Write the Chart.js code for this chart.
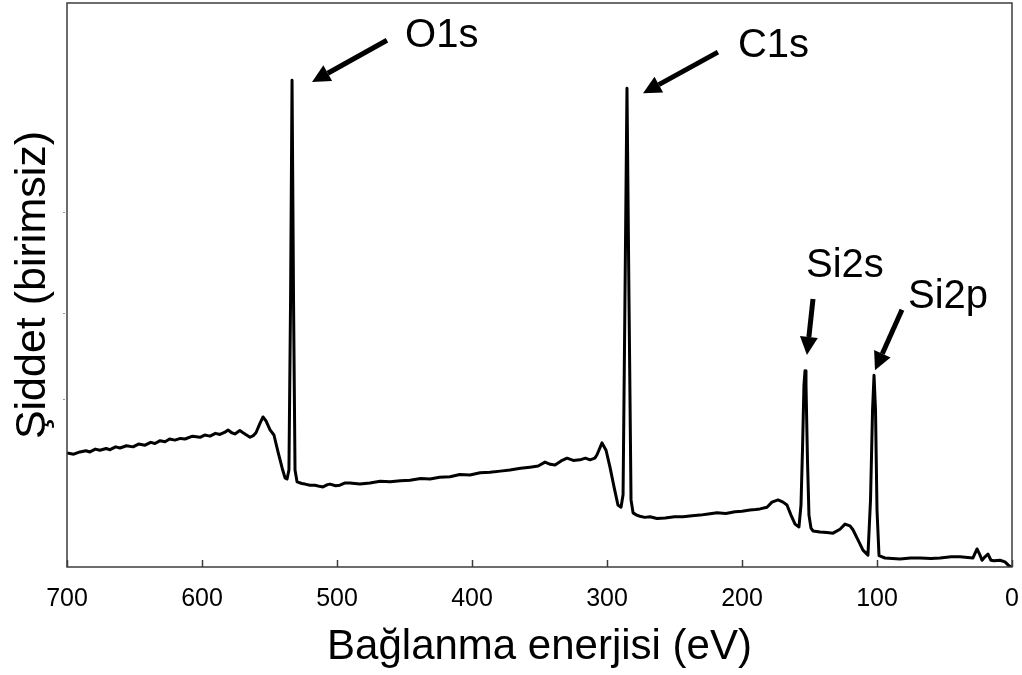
<!DOCTYPE html>
<html>
<head>
<meta charset="utf-8">
<script src="https://cdn.jsdelivr.net/npm/chart.js@4.4.1/dist/chart.umd.min.js"></script>
<style>
  html, body { margin: 0; padding: 0; background: #fff; overflow: hidden; }
  #box { width: 1022px; height: 675px; }
  #myChart { display: block; }
</style>
</head>
<body>
<div id="box"><canvas id="myChart"></canvas></div>
<script>

/* spectrum: binding energy (eV) and intensity (arb. units 0..100) */
const energy = [
  700.0, 695.0, 690.4, 686.0, 683.0, 679.0, 675.6, 671.0, 668.1, 664.0, 660.7, 656.0, 651.1, 647.0,
  642.2, 638.0, 634.8, 631.0, 627.4, 624.0, 620.0, 616.0, 612.6, 607.0, 601.5, 598.0, 594.1, 590.0,
  586.7, 583.0, 580.7, 578.0, 575.6, 572.0, 569.6, 567.0, 564.4, 562.0, 560.0, 557.0, 554.8, 552.6,
  549.6, 546.7, 543.7, 540.7, 538.5, 537.0, 535.6, 534.4, 533.3, 532.2, 531.1, 529.6, 526.0, 523.7,
  520.0, 516.3, 513.0, 510.4, 507.0, 505.2, 501.0, 497.8, 494.0, 490.4, 483.0, 475.6, 468.0, 460.7,
  453.0, 445.9, 438.0, 431.1, 424.0, 416.3, 409.0, 401.5, 394.0, 386.7, 379.0, 371.9, 364.0, 357.0,
  351.0, 345.9, 342.0, 338.5, 334.0, 329.6, 325.0, 320.0, 316.0, 312.6, 309.0, 307.4, 303.7, 300.7,
  297.8, 294.8, 291.9, 289.6, 288.1, 286.7, 285.2, 283.7, 282.2, 280.7, 278.0, 275.6, 272.0, 268.1,
  263.0, 257.0, 250.0, 243.7, 237.0, 231.1, 225.0, 218.5, 212.0, 205.2, 200.0, 194.1, 190.0, 186.7,
  181.5, 177.8, 173.3, 169.6, 166.7, 163.7, 160.7, 157.8, 156.3, 155.2, 154.1, 153.3, 152.6, 151.5,
  150.4, 148.9, 147.4, 142.2, 137.0, 132.6, 127.4, 123.7, 120.0, 117.8, 114.1, 110.4, 106.7, 104.8,
  103.3, 102.2, 101.1, 100.0, 98.5, 94.1, 83.0, 75.0, 68.1, 60.0, 53.3, 45.0, 38.5, 28.9,
  25.9, 23.7, 22.2, 20.0, 17.8, 15.6, 13.3, 8.9, 5.2, 2.2, 0.0
];
const intensity = [
  20.2, 20.0, 20.4, 20.6, 20.4, 20.9, 20.7, 21.0, 20.8, 21.3, 21.1, 21.5, 21.3, 21.8,
  21.6, 22.1, 21.9, 22.4, 22.2, 22.7, 22.5, 22.8, 22.7, 23.2, 23.0, 23.4, 23.2, 23.7,
  23.5, 23.9, 24.3, 23.8, 23.6, 24.2, 23.8, 23.4, 23.0, 23.3, 23.8, 25.5, 26.6, 25.9,
  24.3, 23.4, 20.4, 17.6, 15.8, 15.6, 17.2, 47.3, 86.3, 47.3, 17.2, 15.1, 14.8, 14.7,
  14.5, 14.5, 14.3, 14.2, 14.6, 14.7, 14.4, 14.5, 14.9, 14.9, 14.7, 14.9, 15.2, 15.1,
  15.3, 15.4, 15.7, 15.6, 15.9, 16.0, 16.4, 16.3, 16.7, 16.8, 17.0, 17.2, 17.5, 17.7,
  17.9, 18.6, 18.2, 18.1, 18.8, 19.3, 18.9, 19.0, 19.3, 19.0, 19.3, 19.9, 22.0, 20.7,
  17.7, 14.2, 11.0, 10.6, 12.8, 47.3, 84.9, 47.3, 11.9, 9.6, 9.2, 9.0, 8.8, 8.9,
  8.6, 8.7, 8.9, 8.9, 9.1, 9.2, 9.4, 9.6, 9.5, 9.8, 9.9, 10.1, 10.2, 10.3,
  10.6, 11.5, 11.9, 11.5, 11.0, 9.2, 7.6, 7.1, 11.0, 20.7, 32.3, 34.8, 32.3, 19.0,
  9.2, 6.9, 6.4, 6.2, 6.1, 6.0, 6.7, 7.6, 7.3, 6.6, 4.8, 3.0, 2.1, 11.9,
  27.8, 34.0, 27.8, 10.1, 2.0, 1.6, 1.4, 1.6, 1.6, 1.5, 1.6, 1.8, 1.8, 1.6,
  3.2, 2.1, 1.2, 1.8, 2.3, 1.2, 1.1, 1.2, 0.9, 0.2, 0.0
];

const xTickValues = [700, 600, 500, 400, 300, 200, 100, 0];
const yMarkValues = [29.8, 45.0, 62.9];   // faint marks on the left axis

const peakNames = ['O1s', 'C1s', 'Si2s', 'Si2p'];

/* arrows and labels, in axis units [eV, intensity] */
const peakNotes = [
  { tail: [463.0, 93.4], head: [518.5, 86.0], label: [449.6, 94.1] },
  { tail: [217.8, 91.3], head: [273.3, 84.0], label: [203.0, 92.4] },
  { tail: [147.4, 47.5], head: [151.9, 37.6], label: [152.6, 53.3] },
  { tail: [81.5, 45.6],  head: [101.5, 34.9], label: [77.0, 47.9] }
];

const FONT = "'Liberation Sans', Arial, Helvetica, sans-serif";

/* рамка, внутренние риски, стрелки с подписями */
const decorations = {
  id: 'decorations',
  afterDatasetsDraw(chart) {
    const { ctx, chartArea: a, scales: { x, y } } = chart;
    ctx.save();

    ctx.strokeStyle = '#3c3c3c';
    ctx.lineWidth = 1.5;
    ctx.strokeRect(a.left, a.top, a.right - a.left, a.bottom - a.top);

    xTickValues.forEach((v) => {
      const px = Math.round(x.getPixelForValue(v)) + 0.5;
      ctx.beginPath();
      ctx.moveTo(px, a.bottom);
      ctx.lineTo(px, a.bottom - 7);
      ctx.stroke();
    });

    ctx.strokeStyle = '#9a9a9a';
    ctx.lineWidth = 1;
    yMarkValues.forEach((v) => {
      const py = Math.round(y.getPixelForValue(v)) + 0.5;
      ctx.beginPath();
      ctx.moveTo(a.left - 4, py);
      ctx.lineTo(a.left - 2, py);
      ctx.stroke();
    });

    ctx.fillStyle = '#000';
    ctx.strokeStyle = '#000';
    ctx.font = '40px ' + FONT;
    ctx.textAlign = 'left';
    ctx.textBaseline = 'middle';
    peakNotes.forEach((n, i) => {
      const x0 = x.getPixelForValue(n.tail[0]), y0 = y.getPixelForValue(n.tail[1]);
      const x1 = x.getPixelForValue(n.head[0]), y1 = y.getPixelForValue(n.head[1]);
      drawArrow(ctx, x0, y0, x1, y1);
      ctx.fillText(peakNames[i], x.getPixelForValue(n.label[0]), y.getPixelForValue(n.label[1]));
    });

    ctx.restore();
  }
};

function drawArrow(ctx, x0, y0, x1, y1) {
  const ang = Math.atan2(y1 - y0, x1 - x0);
  const headLen = 18, headHalf = 9;
  const bx = x1 - headLen * Math.cos(ang), by = y1 - headLen * Math.sin(ang);
  ctx.lineWidth = 5;
  ctx.lineCap = 'butt';
  ctx.beginPath();
  ctx.moveTo(x0, y0);
  ctx.lineTo(bx, by);
  ctx.stroke();
  ctx.beginPath();
  ctx.moveTo(x1, y1);
  ctx.lineTo(bx + headHalf * Math.sin(ang), by - headHalf * Math.cos(ang));
  ctx.lineTo(bx - headHalf * Math.sin(ang), by + headHalf * Math.cos(ang));
  ctx.closePath();
  ctx.fill();
}

function createChart() {
  const canvaNode = document.getElementById('myChart');
  const points = energy.map((e, i) => ({ x: e, y: intensity[i] }));

  return new Chart(canvaNode, {
    type: 'line',
    data: {
      datasets: [{
        data: points,
        borderColor: '#000',
        borderWidth: 3,
        borderJoinStyle: 'round',
        pointRadius: 0,
        tension: 0,
        fill: false
      }]
    },
    options: {
      responsive: true,
      maintainAspectRatio: false,
      devicePixelRatio: 1,
      animation: false,
      layout: { padding: { top: 3, right: 10, bottom: 0, left: 0 } },
      plugins: { legend: { display: false }, tooltip: { enabled: false } },
      scales: {
        x: {
          type: 'linear',
          reverse: true,
          min: 0,
          max: 700,
          afterBuildTicks: (scale) => { scale.ticks = xTickValues.map(v => ({ value: v })); },
          afterFit: (scale) => {
            scale.height = 108;
            scale.paddingLeft = 0;
            scale.paddingRight = 0;
          },
          grid: { display: false, drawTicks: false },
          border: { display: false },
          ticks: {
            color: '#000',
            padding: 17,
            maxRotation: 0,
            font: { family: FONT, size: 25 }
          },
          title: {
            display: true,
            text: 'Bağlanma enerjisi (eV)',
            color: '#000',
            font: { family: FONT, size: 42, lineHeight: 1 },
            padding: { top: 0, bottom: 7 }
          }
        },
        y: {
          min: 0,
          max: 100,
          afterFit: (scale) => { scale.width = 67; },
          grid: { display: false, drawTicks: false },
          border: { display: false },
          ticks: { display: false },
          title: {
            display: true,
            text: 'Şiddet (birimsiz)',
            color: '#000',
            font: { family: FONT, size: 43, lineHeight: 1 },
            padding: { top: 12, bottom: 0 }
          }
        }
      }
    },
    plugins: [decorations]
  });
}

createChart();
</script>
</body>
</html>
